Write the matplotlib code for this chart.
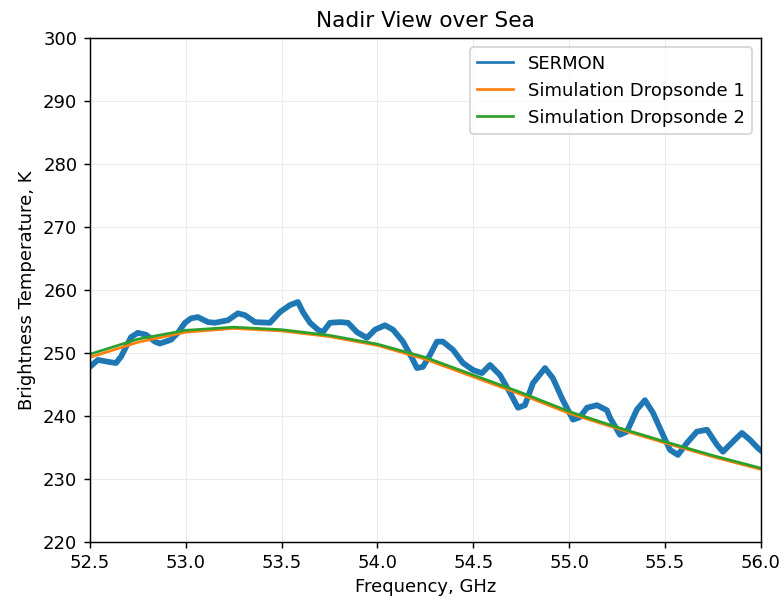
import numpy as np
from matplotlib import pyplot as plt

sermon_freq = [52.500, 52.542, 52.594, 52.636, 52.662, 52.714, 52.750, 52.792, 52.839, 52.865,
               52.923, 52.959, 52.996, 53.027, 53.063, 53.116, 53.152, 53.220, 53.272, 53.309,
               53.361, 53.439, 53.491, 53.543, 53.585, 53.611, 53.648, 53.689, 53.715, 53.752,
               53.804, 53.846, 53.893, 53.945, 53.987, 54.039, 54.081, 54.133, 54.180, 54.206,
               54.237, 54.274, 54.310, 54.341, 54.394, 54.446, 54.498, 54.545, 54.587, 54.639,
               54.691, 54.733, 54.769, 54.811, 54.874, 54.915, 54.967, 55.020, 55.056, 55.093,
               55.145, 55.197, 55.213, 55.265, 55.301, 55.353, 55.395, 55.437, 55.489, 55.526,
               55.567, 55.614, 55.666, 55.719, 55.771, 55.802, 55.854, 55.901, 55.943, 55.984,
               56.000]
sermon_tb = [247.8, 248.9, 248.6, 248.4, 249.4, 252.5, 253.2, 252.9, 251.8, 251.5,
             252.1, 253.2, 254.8, 255.5, 255.7, 254.9, 254.8, 255.2, 256.3, 256.0,
             254.9, 254.8, 256.5, 257.6, 258.1, 256.5, 254.8, 253.7, 253.3, 254.8,
             254.9, 254.8, 253.3, 252.4, 253.7, 254.4, 253.7, 251.8, 249.2, 247.6,
             247.8, 249.7, 251.8, 251.8, 250.5, 248.4, 247.3, 246.8, 248.1, 246.5,
             243.7, 241.3, 241.7, 245.2, 247.6, 246.0, 242.5, 239.4, 239.8, 241.3,
             241.7, 240.9, 239.7, 237.0, 237.5, 241.0, 242.5, 240.5, 237.0, 234.6,
             233.8, 235.7, 237.5, 237.8, 235.4, 234.3, 235.9, 237.3, 236.2, 234.9,
             234.5]

# simulations
sim_freq = [52.5, 52.75, 53.0, 53.25, 53.5, 53.75, 54.0, 54.25, 54.5, 54.75, 55.0, 55.25, 55.5, 55.75, 56.0]
sim1_tb = [249.3, 251.7, 253.3, 253.9, 253.5, 252.6, 251.2, 249.0, 246.2, 243.4, 240.4, 238.0, 235.7, 233.5, 231.5]
sim2_tb = [249.8, 252.2, 253.6, 254.1, 253.7, 252.8, 251.4, 249.3, 246.5, 243.7, 240.7, 238.2, 235.9, 233.7, 231.7]

fig = plt.figure(figsize=(782 / 130, 598 / 130), dpi=130)
ax = fig.add_axes([0.115, 0.094, 0.858, 0.842])

ax.plot(sermon_freq, sermon_tb, color='tab:blue', lw=3.2, solid_joinstyle='round', label='SERMON')
ax.plot(sim_freq, sim1_tb, color='tab:orange', lw=1.5, label='Simulation Dropsonde 1')
ax.plot(sim_freq, sim2_tb, color='tab:green', lw=1.5, label='Simulation Dropsonde 2')

ax.set_xlim(52.5, 56.0)
ax.set_ylim(220, 300)
ax.set_xticks(np.arange(52.5, 56.01, 0.5))
ax.grid(True, color='#ebebeb', lw=0.6)
ax.set_title('Nadir View over Sea')
ax.set_xlabel('Frequency, GHz', labelpad=3)
ax.set_ylabel('Brightness Temperature, K')
leg = ax.legend(loc='upper right')
leg.get_lines()[0].set_linewidth(1.5)

fig.savefig('out.png', dpi=130)
